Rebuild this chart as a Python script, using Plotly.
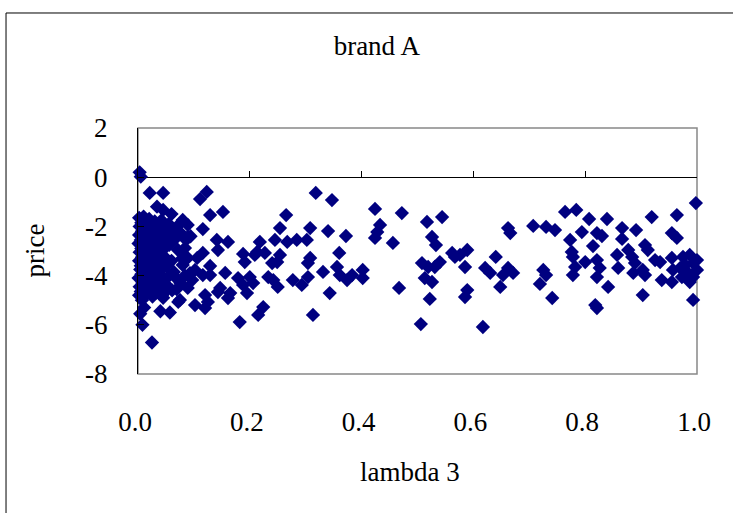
import plotly.graph_objects as go

# ---- data ----
# dense cluster near lambda 3 = 0
blob_x = [0.002, 0.003, 0.002, 0.001, 0.003, 0.002, 0.004, 0.001, 0.003, 0.002,
          0.006, 0.007, 0.005, 0.006, 0.007, 0.005, 0.006, 0.008, 0.005, 0.007,
          0.010, 0.011, 0.009, 0.012, 0.010, 0.011, 0.009, 0.010, 0.012, 0.011,
          0.015, 0.016, 0.014, 0.015, 0.017, 0.016, 0.014, 0.015, 0.016,
          0.020, 0.021, 0.019, 0.022, 0.020, 0.021, 0.019, 0.020, 0.022,
          0.025, 0.026, 0.024, 0.027, 0.025, 0.026, 0.024, 0.025, 0.026,
          0.030, 0.031, 0.029, 0.032, 0.030, 0.031, 0.029, 0.030, 0.032,
          0.036, 0.035, 0.037, 0.036, 0.034, 0.036, 0.037, 0.035,
          0.042, 0.041, 0.043, 0.042, 0.040, 0.042, 0.044, 0.041, 0.043,
          0.048, 0.049, 0.047, 0.048, 0.050, 0.047, 0.049,
          0.055, 0.054, 0.056, 0.053, 0.056, 0.054,
          0.062, 0.061, 0.060, 0.064, 0.061,
          0.070, 0.069, 0.071, 0.068, 0.069,
          0.078, 0.079, 0.076,
          0.086, 0.084,
          0.094, 0.093]
blob_y = [-1.65, -2.00, -2.35, -2.70, -3.05, -3.40, -3.75, -4.10, -4.45, -4.80,
          -1.85, -2.20, -2.55, -2.90, -3.25, -3.60, -3.95, -4.30, -4.65, -5.00,
          -1.60, -2.05, -2.40, -2.75, -3.10, -3.45, -3.80, -4.15, -4.50, -5.30,
          -1.90, -2.30, -2.65, -3.00, -3.35, -3.70, -4.05, -4.40, -4.75,
          -1.70, -2.15, -2.50, -2.85, -3.20, -3.55, -3.90, -4.25, -4.60,
          -2.00, -2.40, -2.75, -3.10, -3.45, -3.80, -4.15, -4.50, -4.85,
          -1.80, -2.25, -2.60, -2.95, -3.30, -3.65, -4.00, -4.35, -4.70,
          -2.10, -2.45, -2.80, -3.15, -3.50, -3.85, -4.20, -4.55,
          -1.75, -2.30, -2.65, -3.00, -3.35, -3.70, -4.05, -4.40, -4.80,
          -2.05, -2.50, -2.90, -3.25, -3.60, -4.30, -4.65,
          -1.90, -2.35, -2.75, -3.55, -4.00, -4.45,
          -2.20, -2.60, -3.40, -3.85, -4.60,
          -2.00, -2.45, -2.95, -4.10, -4.55,
          -2.30, -3.30, -4.30,
          -2.55, -4.00,
          -2.40, -3.90]

# scattered points, lambda 3 from 0 to 0.2
low_x = [0.003, 0.005, 0.021, 0.045, 0.034, 0.045, 0.060, 0.080, 0.004, 0.008,
         0.025, 0.040, 0.057, 0.045, 0.072,
         0.123, 0.111, 0.129, 0.152, 0.089, 0.116, 0.141, 0.161, 0.143, 0.116,
         0.089, 0.089, 0.188, 0.209, 0.191, 0.116, 0.129, 0.156, 0.179, 0.188,
         0.089, 0.143, 0.161, 0.195, 0.120, 0.125, 0.120, 0.182, 0.147, 0.165,
         0.129, 0.080, 0.102, 0.097, 0.106, 0.075, 0.102, 0.084]
low_y = [0.20, 0.02, -0.64, -0.64, -1.20, -1.33, -1.50, -1.74, -5.55, -6.00,
         -6.72, -5.45, -5.50, -4.90, -5.07,
         -0.60, -0.89, -1.54, -1.41, -1.94, -2.11, -2.55, -2.63, -2.96, -3.08,
         -2.43, -3.28, -3.12, -3.16, -3.45, -3.98, -3.98, -3.89, -4.10, -4.38,
         -4.50, -4.67, -4.91, -4.71, -4.79, -5.07, -5.32, -5.89, -4.50, -4.71,
         -3.61, -3.57, -3.77, -4.18, -3.28, -4.99, -5.20, -2.88]

# lambda 3 from 0.2 to 0.4
mid1_x = [0.318, 0.347, 0.265, 0.254, 0.308, 0.340, 0.372, 0.218, 0.245, 0.267,
          0.284, 0.302, 0.213, 0.227, 0.254, 0.240, 0.249, 0.308, 0.304, 0.360,
          0.356, 0.331, 0.200, 0.206, 0.233, 0.242, 0.250, 0.277, 0.293, 0.304,
          0.361, 0.374, 0.343, 0.224, 0.215, 0.313]
mid1_y = [-0.64, -0.93, -1.54, -2.07, -2.07, -2.19, -2.39, -2.63, -2.55, -2.63,
          -2.55, -2.55, -3.04, -3.08, -3.16, -3.49, -3.45, -3.28, -3.49, -3.08,
          -3.65, -3.85, -4.06, -4.30, -4.06, -4.18, -4.46, -4.18, -4.38, -4.06,
          -3.98, -4.18, -4.71, -5.28, -5.60, -5.60]

# lambda 3 from 0.4 to 0.6
mid2_x = [0.424, 0.472, 0.517, 0.544, 0.433, 0.428, 0.424, 0.456, 0.526, 0.533,
          0.562, 0.567, 0.589, 0.508, 0.519, 0.540, 0.531, 0.585, 0.383, 0.402,
          0.402, 0.513, 0.526, 0.467, 0.522, 0.589, 0.585, 0.506]
mid2_y = [-1.29, -1.46, -1.82, -1.62, -1.94, -2.23, -2.47, -2.67, -2.43, -2.76,
          -3.08, -3.24, -2.96, -3.49, -3.65, -3.45, -3.65, -3.65, -3.98, -3.77,
          -4.10, -4.10, -4.26, -4.50, -4.95, -4.59, -4.87, -5.97]

# lambda 3 from 0.6 to 0.78
mid3_x = [0.662, 0.666, 0.707, 0.730, 0.746, 0.764, 0.576, 0.621, 0.630, 0.640,
          0.662, 0.653, 0.671, 0.648, 0.725, 0.730, 0.719, 0.741, 0.617]
mid3_y = [-2.07, -2.27, -1.98, -2.02, -2.15, -1.41, -3.16, -3.69, -3.89, -3.24,
          -3.69, -3.98, -3.89, -4.46, -3.77, -3.98, -4.34, -4.91, -6.09]

# lambda 3 from 0.78 to 1.0
high_x = [0.784, 0.807, 0.839, 0.794, 0.821, 0.830, 0.866, 0.866, 0.891, 0.814,
          0.773, 0.778, 0.776, 0.778, 0.782, 0.800, 0.821, 0.826, 0.821, 0.857,
          0.859, 0.877, 0.884, 0.889, 0.886, 0.841, 0.818, 0.821, 0.998, 0.919,
          0.964, 0.955, 0.964, 0.907, 0.912, 0.925, 0.934, 0.903, 0.907, 0.937,
          0.955, 0.957, 0.955, 0.975, 0.987, 0.993, 0.984, 0.973, 0.993, 0.903,
          0.993, 0.979, 1.000, 0.970, 0.987, 1.000]
high_y = [-1.33, -1.70, -1.70, -2.23, -2.27, -2.39, -2.07, -2.51, -2.15, -2.80,
          -2.55, -3.24, -3.04, -3.98, -3.65, -3.45, -3.37, -3.69, -4.06, -3.16,
          -3.69, -2.96, -3.24, -3.49, -3.89, -4.46, -5.20, -5.32, -1.05, -1.62,
          -1.54, -2.27, -2.47, -2.76, -2.96, -3.37, -3.45, -3.77, -3.98, -4.18,
          -3.28, -3.77, -4.26, -3.24, -3.16, -3.49, -3.89, -4.06, -4.06, -4.79,
          -4.99, -3.57, -3.77, -3.69, -4.26, -3.37]

x_ticks = [0.0, 0.2, 0.4, 0.6, 0.8, 1.0]
x_tick_text = ["0.0", "0.2", "0.4", "0.6", "0.8", "1.0"]
y_ticks = [2, 0, -2, -4, -6, -8]
y_tick_text = ["2", "0", "-2", "-4", "-6", "-8"]

lambda3 = blob_x + low_x + mid1_x + mid2_x + mid3_x + high_x
price = blob_y + low_y + mid1_y + mid2_y + mid3_y + high_y

FONT = "Liberation Serif"
NAVY = "#000080"
FS = 27

fig = go.Figure()
fig.add_trace(go.Scatter(
    x=lambda3, y=price, mode="markers",
    marker=dict(symbol="diamond", size=11, color=NAVY, line=dict(width=0)),
    showlegend=False, cliponaxis=False, hoverinfo="skip"))
# helper trace so the tick-mark axis at price = 0 is drawn
fig.add_trace(go.Scatter(x=[None], y=[None], xaxis="x2", yaxis="y",
                         showlegend=False, hoverinfo="skip"))

fig.update_layout(
    width=733, height=513, autosize=False,
    margin=dict(l=138, r=36, t=128, b=139, pad=0),
    paper_bgcolor="white", plot_bgcolor="white",
    font=dict(family=FONT, color="black"),
    title=dict(text="brand A", x=0.514, y=1 - 46 / 513, xref="container", yref="container",
               xanchor="center", yanchor="middle", font=dict(family=FONT, size=FS, color="black")),
    xaxis=dict(range=[0, 1], tickvals=x_ticks, ticktext=x_tick_text,
               showgrid=False, zeroline=False, showline=False, ticks="",
               ticklabelstandoff=29, ticklabelshift=-3,
               tickfont=dict(family=FONT, size=FS, color="black")),
    xaxis2=dict(range=[0, 1], overlaying="x", anchor="free", position=0.8, side="bottom",
                tickvals=x_ticks, showticklabels=False, ticks="inside", ticklen=6,
                tickcolor="black", tickwidth=1, showgrid=False, zeroline=False, showline=False),
    yaxis=dict(range=[-8, 2], tickvals=y_ticks, ticktext=y_tick_text, showgrid=False,
               zeroline=True, zerolinecolor="black", zerolinewidth=1,
               showline=True, linecolor="black", linewidth=1,
               ticks="inside", ticklen=6, tickcolor="black",
               ticklabelstandoff=24, tickfont=dict(family=FONT, size=FS, color="black")),
    shapes=[
        dict(type="rect", xref="paper", yref="paper", x0=0, x1=1, y0=0, y1=1,
             line=dict(color="#888888", width=1.5), layer="below"),
        dict(type="rect", xref="paper", yref="paper", x0=-0.2361, x1=1.1, y0=-0.6, y1=1.4675,
             line=dict(color="black", width=1), layer="below"),
    ],
    annotations=[
        dict(text="lambda 3", xref="paper", yref="paper", x=0.487, y=-0.398,
             xanchor="center", yanchor="middle", showarrow=False,
             font=dict(family=FONT, size=FS, color="black")),
        dict(text="price", xref="paper", yref="paper", x=-0.185, y=0.5, textangle=-90,
             xanchor="center", yanchor="middle", showarrow=False,
             font=dict(family=FONT, size=FS, color="black")),
    ],
)

fig.write_html("out.html", config={"displayModeBar": False},
               post_script="document.body.style.margin='0px';")
